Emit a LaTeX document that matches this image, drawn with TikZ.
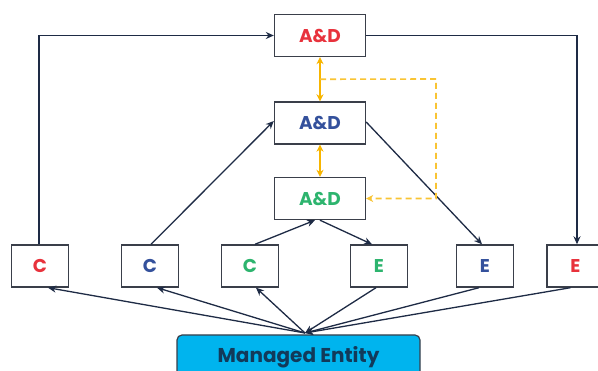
\documentclass[tikz,border=0pt]{standalone}
\usepackage{fontspec}
\setmainfont{Poppins}
\usetikzlibrary{arrows.meta,calc}
\definecolor{cred}{HTML}{E8323C}
\definecolor{cblue}{HTML}{34519C}
\definecolor{cgreen}{HTML}{2DB46E}
\definecolor{navy}{HTML}{1E2B45}
\definecolor{boxline}{HTML}{3A3F4A}
\definecolor{cyel}{HTML}{F7B500}
\definecolor{cyan}{HTML}{00B4EE}
\definecolor{metext}{HTML}{123A5A}
\begin{document}
\begin{tikzpicture}[x=1pt,y=-1pt,
  box/.style={draw=boxline,line width=1.4pt,fill=white,inner sep=0pt,font=\bfseries\fontsize{18.5}{18.5}\selectfont},
  adbox/.style={box,minimum width=91pt,minimum height=42pt},
  cebox/.style={box,minimum width=57pt,minimum height=42pt,font=\bfseries\fontsize{18.5}{18.5}\selectfont},
  arr/.style={draw=navy,line width=1.3pt,-{Stealth[length=8pt,width=7pt]}},
  yarr/.style={draw=cyel,line width=1.6pt,{Stealth[length=7pt,width=7pt]}-{Stealth[length=7pt,width=7pt]}},
  ydash/.style={draw=cyel!80,line width=1.6pt,dash pattern=on 6pt off 4pt,-{Stealth[length=7pt,width=7pt]}}]
\useasboundingbox (0,0) rectangle (598,371);
\fill[white] (0,0) rectangle (598,371);
% A&D boxes
\node[adbox,text=cred] (adT) at (320,35.5) {A\&D};
\node[adbox,text=cblue] (adM) at (320,123) {A\&D};
\node[adbox,text=cgreen] (adB) at (320,198.5) {A\&D};
% C and E boxes
\node[cebox,text=cred] (cR) at (40,266) {C};
\node[cebox,text=cblue] (cB) at (150,266) {C};
\node[cebox,text=cgreen] (cG) at (250,266) {C};
\node[cebox,text=cgreen] (eG) at (379,266) {E};
\node[cebox,text=cblue] (eB) at (485,266) {E};
\node[cebox,text=cred] (eR) at (575.5,266) {E};
% Managed entity
\node[draw=boxline,line width=1.2pt,fill=cyan,rounded corners=5pt,minimum width=243pt,minimum height=44pt,text=metext,font=\bfseries\fontsize{20}{20}\selectfont] (me) at (298.5,357) {Managed Entity};
\coordinate (hub) at (305,333);
% connectors from/to managed entity
\draw[arr] (hub) -- ([xshift=8pt]cR.south);
\draw[arr] (hub) -- ([xshift=7pt]cB.south);
\draw[arr] (hub) -- ([xshift=6pt]cG.south);
\draw[arr] ([xshift=-3pt]eG.south) -- (hub);
\draw[arr] ([xshift=-6pt]eB.south) -- (hub);
\draw[arr] ([xshift=-5pt]eR.south) -- (hub);
% upper connectors
\draw[arr] ([xshift=-1pt]cR.north) |- (adT.west);
\draw[arr] (adT.east) -| ([xshift=1.5pt]eR.north);
\draw[arr] ([xshift=1pt]cB.north) -- ([yshift=2pt]adM.west);
\draw[arr] ([yshift=1pt]adM.east) -- ([xshift=-3pt]eB.north);
\draw[arr] ([xshift=5pt]cG.north) -- ([xshift=-5pt]adB.south);
\draw[arr] (adB.south) -- ([xshift=-7pt]eG.north);
% yellow
\draw[yarr] (adT.south) -- (adM.north);
\draw[yarr] (adM.south) -- (adB.north);
\coordinate (ymid) at ($(adT.south)!0.5!(adM.north)$);
\coordinate (ycorner) at (436,79);
\draw[ydash] (ymid) -- (ycorner) |- (adB.east);
\end{tikzpicture}
\end{document}
